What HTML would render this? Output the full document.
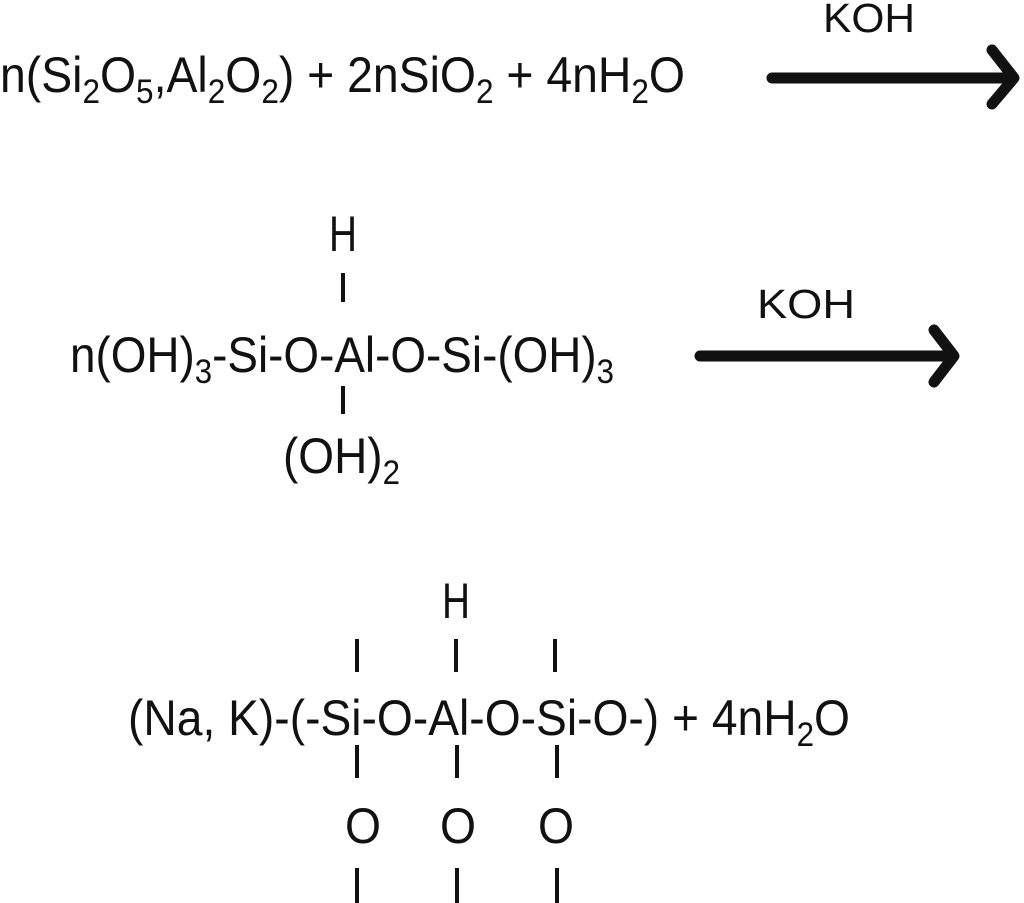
<!DOCTYPE html>
<html><head><style>html,body{margin:0;padding:0;background:#fff}svg{display:block}</style></head>
<body>
<svg width="1024" height="903" viewBox="0 0 1024 903" xmlns="http://www.w3.org/2000/svg" font-family="Liberation Sans, Arial, sans-serif" fill="#111">
<g font-size="50">
<text x="0" y="92" textLength="685" lengthAdjust="spacingAndGlyphs">n(Si<tspan font-size="34" dy="11">2</tspan><tspan dy="-11">O</tspan><tspan font-size="34" dy="11">5</tspan><tspan dy="-11">,Al</tspan><tspan font-size="34" dy="11">2</tspan><tspan dy="-11">O</tspan><tspan font-size="34" dy="11">2</tspan><tspan dy="-11">) + 2nSiO</tspan><tspan font-size="34" dy="11">2</tspan><tspan dy="-11"> + 4nH</tspan><tspan font-size="34" dy="11">2</tspan><tspan dy="-11">O</tspan></text>
<text x="823" y="32" font-size="41" textLength="92" lengthAdjust="spacingAndGlyphs">KOH</text>
<text x="329" y="251" textLength="28" lengthAdjust="spacingAndGlyphs">H</text>
<text x="70" y="372" textLength="544" lengthAdjust="spacingAndGlyphs">n(OH)<tspan font-size="34" dy="11">3</tspan><tspan dy="-11">-Si-O-Al-O-Si-(OH)</tspan><tspan font-size="34" dy="11">3</tspan></text>
<text x="283" y="473" textLength="117" lengthAdjust="spacingAndGlyphs">(OH)<tspan font-size="34" dy="11">2</tspan></text>
<text x="757" y="318" font-size="41" textLength="98" lengthAdjust="spacingAndGlyphs">KOH</text>
<text x="442" y="618" textLength="28" lengthAdjust="spacingAndGlyphs">H</text>
<text x="128" y="735" textLength="722" lengthAdjust="spacingAndGlyphs">(Na, K)-(-Si-O-Al-O-Si-O-) + 4nH<tspan font-size="34" dy="11">2</tspan><tspan dy="-11">O</tspan></text>
<text x="345" y="843" textLength="36" lengthAdjust="spacingAndGlyphs">O</text>
<text x="440" y="843" textLength="36" lengthAdjust="spacingAndGlyphs">O</text>
<text x="538" y="843" textLength="36" lengthAdjust="spacingAndGlyphs">O</text>
</g>
<g stroke="#111" stroke-width="4">
<line x1="343" y1="273" x2="343" y2="302"/><line x1="343" y1="386" x2="343" y2="414"/>
<line x1="357" y1="639" x2="357" y2="672"/><line x1="456" y1="639" x2="456" y2="672"/><line x1="555" y1="639" x2="555" y2="672"/>
<line x1="357" y1="745" x2="357" y2="778"/><line x1="457" y1="745" x2="457" y2="778"/><line x1="557" y1="745" x2="557" y2="778"/>
<line x1="357" y1="868" x2="357" y2="903"/><line x1="457" y1="868" x2="457" y2="903"/><line x1="557" y1="868" x2="557" y2="903"/>
</g>
<g stroke="#111" stroke-width="11" stroke-linecap="round" stroke-linejoin="round" fill="none">
<line x1="772" y1="78" x2="1012" y2="78"/><polyline points="992,50 1014,78 992,104"/>
<line x1="700" y1="356" x2="952" y2="356"/><polyline points="934,330 954,356 934,382"/>
</g>
</svg>
</body></html>
